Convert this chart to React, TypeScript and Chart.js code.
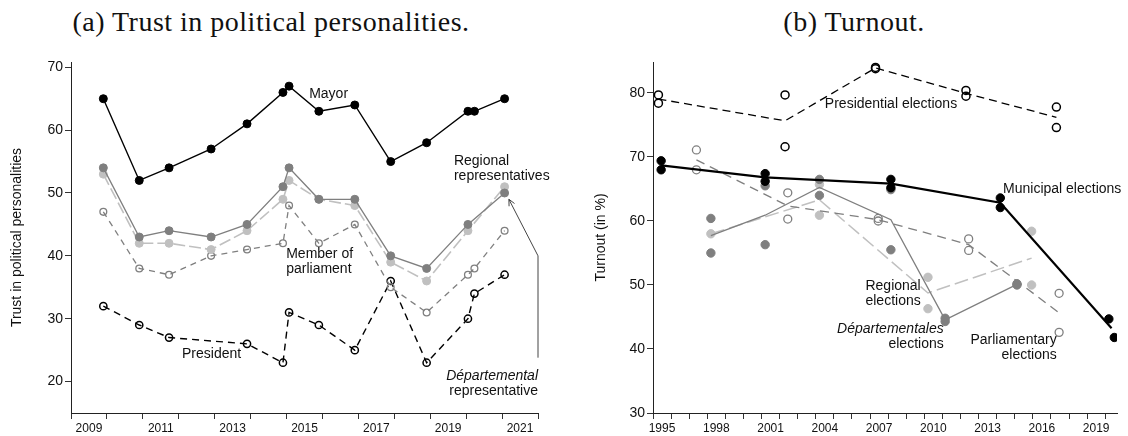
import React, { useEffect, useRef } from 'react';
import { Chart, registerables } from 'chart.js';

Chart.register(...registerables);

// ---------- Panel (a): trust in political personalities ----------
const surveyDates = [2009.9, 2010.9, 2011.73, 2012.9, 2013.9, 2014.9, 2015.07, 2015.9, 2016.9, 2017.9, 2018.9, 2020.05, 2020.23, 2021.07];
const trustMayor = [65, 52, 54, 57, 61, 66, 67, 63, 64, 55, 58, 63, 63, 65];
const trustDepartemental = [54, 43, 44, 43, 45, 51, 54, 49, 49, 40, 38, 45, null, 50];
const trustRegional = [53, 42, 42, 41, 44, 49, 52, 49, 48, 39, 36, 44, null, 51];
const trustMP = [47, 38, 37, 40, 41, 42, 48, 42, 45, 35, 31, 37, 38, 44];
const trustPresident = [32, 29, 27, null, 26, 23, 31, 29, 25, 36, 23, 30, 34, 37];
const trustYTicks = [20, 30, 40, 50, 60, 70];
const trustYearLabels = ['2009', '2011', '2013', '2015', '2017', '2019', '2021'];

// ---------- Panel (b): turnout ----------
const presYears = [1995.3, 1995.3, 2002.3, 2002.3, 2007.3, 2007.3, 2012.3, 2012.3, 2017.3, 2017.3];
const presTurnout = [79.7, 78.4, 71.6, 79.7, 83.8, 84.0, 79.5, 80.4, 77.8, 74.6];
const presTrendYears = [1995.3, 2002.3, 2007.3, 2012.3, 2017.3];
const presTrend = [79.05, 75.65, 83.9, 79.95, 76.2];

const muniYears = [1995.45, 1995.45, 2001.2, 2001.2, 2008.15, 2008.15, 2014.2, 2014.2, 2020.2, 2020.5];
const muniTurnout = [69.4, 68.0, 67.4, 66.2, 66.5, 65.2, 63.6, 62.1, 44.7, 41.8];
const muniTrendYears = [1995.45, 2001.2, 2008.15, 2014.2, 2020.35];
const muniTrend = [68.7, 66.8, 65.85, 62.85, 43.25];

const legisYears = [1997.4, 1997.4, 2002.45, 2002.45, 2007.45, 2007.45, 2012.45, 2012.45, 2017.45, 2017.45];
const legisTurnout = [71.1, 68.0, 64.4, 60.3, 60.4, 60.0, 57.2, 55.4, 48.7, 42.6];
const legisTrendYears = [1997.4, 2002.45, 2007.45, 2012.45, 2017.45];
const legisTrend = [69.55, 62.35, 60.2, 56.3, 45.65];

const deptYears = [1998.2, 1998.2, 2001.2, 2001.2, 2004.2, 2004.2, 2008.15, 2008.15, 2011.15, 2011.15, 2015.12, 2015.12];
const deptTurnout = [60.4, 55.0, 65.5, 56.3, 64.0, 66.5, 64.9, 55.5, 44.3, 44.8, 50.2, 50.0];
const deptTrendYears = [1998.2, 2001.2, 2004.2, 2008.15, 2011.15, 2015.12];
const deptTrend = [57.7, 60.9, 65.25, 60.2, 44.55, 50.1];

const regYears = [1998.2, 2004.2, 2004.2, 2010.2, 2010.2, 2015.93, 2015.93];
const regTurnout = [58.0, 60.9, 65.7, 46.3, 51.2, 50.0, 58.4];
const regTrendYears = [1998.2, 2004.2, 2010.2, 2015.93];
const regTrend = [58.0, 63.3, 48.75, 54.2];

const turnoutYTicks = [30, 40, 50, 60, 70, 80];
const turnoutYearLabels = ['1995', '1998', '2001', '2004', '2007', '2010', '2013', '2016', '2019'];

// ---------- annotations (data coordinates) ----------
type Note = { x: number; y: number; lines: string[]; italicFirst?: boolean; align: CanvasTextAlign };
const trustNotes: Note[] = [
  { x: 2015.63, y: 65.65, lines: ['Mayor'], align: 'left' },
  { x: 2019.66, y: 55.0, lines: ['Regional', 'representatives'], align: 'left' },
  { x: 2014.99, y: 40.2, lines: ['Member of', 'parliament'], align: 'left' },
  { x: 2012.09, y: 24.3, lines: ['President'], align: 'left' },
  { x: 2022.0, y: 20.8, lines: ['Départemental', 'representative'], italicFirst: true, align: 'right' },
];
const trustArrowX = [2022.0, 2022.0, 2021.19];
const trustArrowY = [23.8, 40.0, 49.0];
const turnoutNotes: Note[] = [
  { x: 2004.5, y: 78.3, lines: ['Presidential elections'], align: 'left' },
  { x: 2014.35, y: 65.0, lines: ['Municipal elections'], align: 'left' },
  { x: 2009.8, y: 49.85, lines: ['Regional', 'elections'], align: 'right' },
  { x: 2011.07, y: 43.1, lines: ['Départementales', 'elections'], italicFirst: true, align: 'right' },
  { x: 2017.32, y: 41.4, lines: ['Parliamentary', 'elections'], align: 'right' },
];

const SANS = '"Liberation Sans", Arial, Helvetica, sans-serif';
const BLACK = '#000000';
const DARK = '#7f7f7f';
const LIGHT = '#c0c0c0';
const CLEAR = 'rgba(0,0,0,0)';

const pts = (xs: number[], ys: (number | null)[]) =>
  xs.map((x, i) => ({ x, y: ys[i] })).filter((p) => p.y !== null);

function notesPlugin(id: string, notes: Note[], arrowX?: number[], arrowY?: number[]) {
  return {
    id,
    afterDatasetsDraw(chart: any) {
      const { ctx, scales } = chart;
      const xs = scales.x;
      const ys = scales.y;
      ctx.save();
      ctx.fillStyle = '#111';
      ctx.textBaseline = 'middle';
      for (const n of notes) {
        const px = xs.getPixelForValue(n.x);
        const py = ys.getPixelForValue(n.y);
        ctx.textAlign = n.align;
        n.lines.forEach((line, i) => {
          ctx.font = `${n.italicFirst && i === 0 ? 'italic ' : ''}14px ${SANS}`;
          ctx.fillText(line, px, py + i * 15);
        });
      }
      if (arrowX && arrowY) {
        const p = arrowX.map((x, i) => [xs.getPixelForValue(x), ys.getPixelForValue(arrowY[i])]);
        ctx.strokeStyle = '#444';
        ctx.lineWidth = 1;
        ctx.beginPath();
        p.forEach(([x, y], i) => (i === 0 ? ctx.moveTo(x, y) : ctx.lineTo(x, y)));
        ctx.stroke();
        const [x1, y1] = p[p.length - 2];
        const [x2, y2] = p[p.length - 1];
        const ang = Math.atan2(y2 - y1, x2 - x1);
        const L = 7;
        ctx.beginPath();
        ctx.moveTo(x2 - L * Math.cos(ang - 0.45), y2 - L * Math.sin(ang - 0.45));
        ctx.lineTo(x2, y2);
        ctx.lineTo(x2 - L * Math.cos(ang + 0.45), y2 - L * Math.sin(ang + 0.45));
        ctx.stroke();
      }
      ctx.restore();
    },
  };
}

function yearAxis(min: number, max: number, labels: string[]) {
  return {
    type: 'linear',
    min,
    max,
    afterBuildTicks: (scale: any) => {
      const t: any[] = [];
      for (let y = Math.ceil(min); y <= max; y++) {
        t.push({ value: y });
        if (y + 0.5 < max) t.push({ value: y + 0.5 });
      }
      scale.ticks = t;
    },
    afterFit: (scale: any) => {
      scale.height = 23;
    },
    grid: {
      drawOnChartArea: false,
      drawTicks: true,
      tickLength: 6,
      tickWidth: 1,
      tickColor: (c: any) => (c.tick && c.tick.value % 1 !== 0 ? CLEAR : '#333'),
    },
    border: { display: true, color: '#222', width: 1 },
    ticks: {
      autoSkip: false,
      maxRotation: 0,
      minRotation: 0,
      padding: 2,
      color: '#111',
      font: { family: SANS, size: 12 },
      callback: (v: any) => {
        const n = Number(v);
        if (n % 1 === 0) return '';
        const s = String(Math.floor(n));
        return labels.includes(s) ? s : '';
      },
    },
  };
}

function valueAxis(min: number, max: number, tickVals: number[], width: number, text: string, titlePad: number) {
  return {
    type: 'linear',
    min,
    max,
    afterBuildTicks: (scale: any) => {
      scale.ticks = tickVals.map((v) => ({ value: v }));
    },
    afterFit: (scale: any) => {
      scale.width = width;
    },
    grid: { drawOnChartArea: false, drawTicks: true, tickLength: 6, tickColor: '#333' },
    border: { display: true, color: '#222', width: 1 },
    ticks: { padding: 2, color: '#111', font: { family: SANS, size: 14 } },
    title: {
      display: true,
      text,
      color: '#111',
      font: { family: SANS, size: 14 },
      padding: { top: titlePad, bottom: 0 },
    },
  };
}

function filled(color: string, r = 4) {
  return { pointRadius: r, pointBackgroundColor: color, pointBorderColor: color, pointBorderWidth: 1 };
}
function open(color: string, r = 3.5, w = 1.4) {
  return { pointRadius: r, pointBackgroundColor: CLEAR, pointBorderColor: color, pointBorderWidth: w };
}

function trustConfig(): any {
  const line = (color: string, width: number, dash: number[]) => ({
    showLine: true,
    borderColor: color,
    borderWidth: width,
    borderDash: dash,
    backgroundColor: CLEAR,
  });
  return {
    type: 'scatter',
    data: {
      datasets: [
        { label: 'Mayor', data: pts(surveyDates, trustMayor), ...line(BLACK, 1.4, []), ...filled(BLACK, 4) },
        { label: 'Départemental representative', data: pts(surveyDates, trustDepartemental), ...line(DARK, 1.3, []), ...filled(DARK, 4) },
        { label: 'Regional representatives', data: pts(surveyDates, trustRegional), ...line(LIGHT, 1.6, [12, 4]), ...filled(LIGHT, 4) },
        { label: 'Member of parliament', data: pts(surveyDates, trustMP), ...line(DARK, 1.3, [6, 5]), ...open(DARK, 3.4, 1.3) },
        { label: 'President', data: pts(surveyDates, trustPresident), ...line(BLACK, 1.4, [7, 5]), ...open(BLACK, 3.6, 1.5) },
      ],
    },
    options: {
      animation: false,
      responsive: false,
      layout: { padding: { left: 0, right: 590, top: 62, bottom: 0 } },
      plugins: { legend: { display: false }, tooltip: { enabled: false } },
      scales: {
        x: yearAxis(2009, 2022, trustYearLabels),
        y: valueAxis(15, 70.84, trustYTicks, 71, 'Trust in political personalities', 9),
      },
    },
    plugins: [notesPlugin('trustNotes', trustNotes, trustArrowX, trustArrowY)],
  };
}

function turnoutConfig(): any {
  const trend = (color: string, width: number, dash: number[]) => ({
    showLine: true,
    borderColor: color,
    borderWidth: width,
    borderDash: dash,
    backgroundColor: CLEAR,
    pointRadius: 0,
  });
  return {
    type: 'scatter',
    data: {
      datasets: [
        { label: 'Municipal', data: pts(muniYears, muniTurnout), showLine: false, ...filled(BLACK, 4.2) },
        { label: 'Municipal trend', data: pts(muniTrendYears, muniTrend), ...trend(BLACK, 2.2, []) },
        { label: 'Presidential', data: pts(presYears, presTurnout), showLine: false, ...open(BLACK, 4, 1.5) },
        { label: 'Presidential trend', data: pts(presTrendYears, presTrend), ...trend(BLACK, 1.3, [8, 5]) },
        { label: 'Départementales', data: pts(deptYears, deptTurnout), showLine: false, ...filled(DARK, 4.2) },
        { label: 'Départementales trend', data: pts(deptTrendYears, deptTrend), ...trend(DARK, 1.3, []) },
        { label: 'Parliamentary', data: pts(legisYears, legisTurnout), showLine: false, ...open(DARK, 4, 1.3) },
        { label: 'Parliamentary trend', data: pts(legisTrendYears, legisTrend), ...trend(DARK, 1.3, [9, 6]) },
        { label: 'Regional', data: pts(regYears, regTurnout), showLine: false, ...filled(LIGHT, 4.2) },
        { label: 'Regional trend', data: pts(regTrendYears, regTrend), ...trend(LIGHT, 1.5, [14, 5]) },
      ],
    },
    options: {
      animation: false,
      responsive: false,
      layout: { padding: { left: 570, right: 11, top: 62, bottom: 0 } },
      plugins: { legend: { display: false }, tooltip: { enabled: false } },
      scales: {
        x: yearAxis(1995, 2020.65, turnoutYearLabels),
        y: valueAxis(30, 84.84, turnoutYTicks, 83, 'Turnout (in %)', 22.6),
      },
    },
    plugins: [notesPlugin('turnoutNotes', turnoutNotes)],
  };
}

const W = 1128;
const H = 436;

export default function App() {
  const leftRef = useRef<HTMLCanvasElement | null>(null);
  const rightRef = useRef<HTMLCanvasElement | null>(null);

  useEffect(() => {
    const a = new Chart(leftRef.current as HTMLCanvasElement, trustConfig());
    const b = new Chart(rightRef.current as HTMLCanvasElement, turnoutConfig());
    return () => {
      a.destroy();
      b.destroy();
    };
  }, []);

  const titleStyle: React.CSSProperties = {
    position: 'absolute',
    top: 6,
    transform: 'translateX(-50%)',
    whiteSpace: 'nowrap',
    fontFamily: '"Liberation Serif", "Times New Roman", serif',
    fontSize: 28,
    lineHeight: '32px',
    letterSpacing: 0.5,
    color: '#111',
  };
  const canvasStyle: React.CSSProperties = { position: 'absolute', left: 0, top: 0, width: W, height: H };

  return (
    <div style={{ position: 'fixed', left: 0, top: 0, width: W, height: H, background: '#fff', overflow: 'hidden' }}>
      <div style={{ ...titleStyle, left: 271 }}>(a) Trust in political personalities.</div>
      <div style={{ ...titleStyle, left: 854 }}>(b) Turnout.</div>
      <canvas ref={leftRef} width={W} height={H} style={canvasStyle} />
      <canvas ref={rightRef} width={W} height={H} style={canvasStyle} />
    </div>
  );
}
